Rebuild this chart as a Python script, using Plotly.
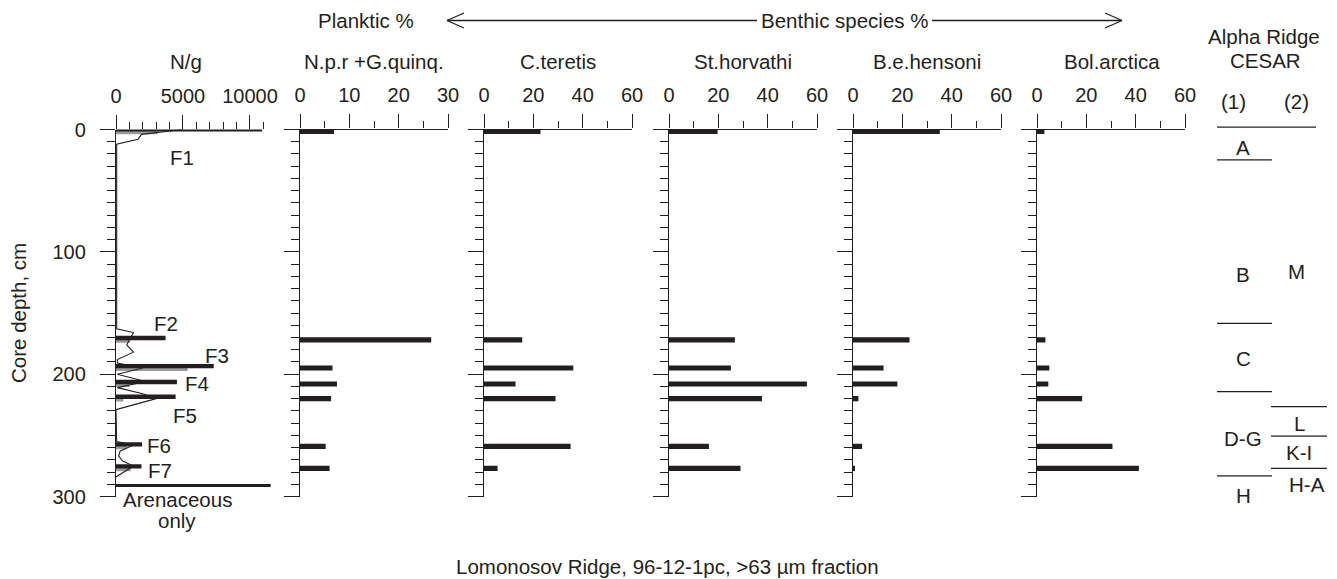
import plotly.graph_objects as go

W, H = 1337, 579
INK = "#231f20"
GREY = "#9a9a9a"
FONT = "Liberation Sans, Arial, sans-serif"
FS = 20
FSA = 20.5

# ---------------- data ----------------
depths = [1.5, 172, 195, 208, 220, 259, 277]           # core depth, cm
ng_black = [10900, 3700, 7300, 4550, 4450, 1950, 1900]
ng_grey = [3100, 1050, 5350, 1000, 550, 800, 1100]
aren_depth = [291]
aren_value = [11550]
ng_line_depth = [0, 4, 8, 12, 163, 166, 171, 176, 182, 188, 191, 195, 200, 206, 211,
                 216, 220, 229, 255, 258, 263, 267, 271, 275, 284]
ng_line_value = [5000, 1900, 1650, 50, 50, 1300, 1050, 800, 1300, 100, 100, 2000, 100,
                 2200, 100, 2000, 3000, 0, 50, 1300, 300, 200, 500, 1300, 0]
npr = [6.9, 26.6, 6.6, 7.5, 6.3, 5.2, 6.0]
cteretis = [22.9, 15.5, 36.2, 12.8, 29.0, 35.1, 5.5]
sthorvathi = [19.7, 26.7, 25.1, 55.9, 37.7, 16.2, 29.0]
behensoni = [35.2, 22.9, 12.4, 18.0, 2.2, 3.7, 0.7]
bolarctica = [3.0, 3.4, 5.0, 4.6, 18.3, 30.6, 41.3]

panel_titles = ["N/g", "N.p.r +G.quinq.", "C.teretis", "St.horvathi", "B.e.hensoni", "Bol.arctica"]
fauna_labels = ["F1", "F2", "F3", "F4", "F5", "F6", "F7"]
fauna_x = [4925, 3730, 7515, 6020, 5150, 3210, 3280]
fauna_depth = [22.5, 158.4, 185, 208, 233.4, 258.7, 279]

# Alpha Ridge CESAR zonation (depth equivalents)
col1_bounds = [24.9, 158.4, 214.3, 283.2]
col2_bounds = [226.6, 250.6, 277.0]
top_bound = [-2.0]
col1_labels = ["A", "B", "C", "D-G", "H"]
col1_label_depth = [15.1, 118.9, 186.8, 252.2, 298.8]
col2_labels = ["M", "L", "K-I", "H-A"]
col2_label_depth = [115.7, 240.0, 263.7, 290.6]
col2_label_x = [1296, 1299, 1299, 1307]


def px(x):
    return x / W


def py(y):
    return 1 - y / H


Y_TOP, Y_BOT = 129.5, 496.5
ydom = [py(Y_BOT), py(Y_TOP)]
PXCM = (Y_BOT - Y_TOP) / 300.0

panels = [
    # (left px, right px, range max, dtick, minor dtick, title centre)
    (116, 271.4, 11600, 5000, 1000, 186),
    (300, 448, 30, 10, 5, 374),
    (484, 632, 60, 20, 10, 558),
    (669, 817, 60, 20, 10, 743),
    (853, 1001, 60, 20, 10, 927),
    (1037, 1185, 60, 20, 10, 1112),
]
series = [None, npr, cteretis, sthorvathi, behensoni, bolarctica]

fig = go.Figure()

# N/g panel
fig.add_trace(go.Scatter(x=ng_line_value, y=ng_line_depth, mode="lines",
                         line=dict(color=INK, width=1.1), xaxis="x", yaxis="y",
                         showlegend=False, hoverinfo="skip"))
fig.add_trace(go.Bar(x=ng_grey, y=depths, orientation="h", width=2.8, offset=-0.4,
                     marker=dict(color=GREY, line=dict(width=0)), xaxis="x", yaxis="y",
                     showlegend=False))
fig.add_trace(go.Bar(x=ng_black, y=depths, orientation="h", width=3.6, offset=-3.4,
                     marker=dict(color=INK, line=dict(width=0)), xaxis="x", yaxis="y",
                     showlegend=False))
fig.add_trace(go.Bar(x=aren_value, y=aren_depth, orientation="h", width=2.4,
                     marker=dict(color=INK, line=dict(width=0)), xaxis="x", yaxis="y",
                     showlegend=False))

for i in range(2, 7):
    fig.add_trace(go.Bar(x=series[i - 1], y=depths, orientation="h", width=4.2,
                         marker=dict(color=INK, line=dict(width=0)),
                         xaxis=f"x{i}", yaxis=f"y{i}", showlegend=False))

layout = dict(
    template="none",
    width=W, height=H, margin=dict(l=0, r=0, t=0, b=0, pad=0, autoexpand=False),
    paper_bgcolor="white", plot_bgcolor="rgba(0,0,0,0)",
    barmode="overlay", showlegend=False,
    font=dict(family=FONT, size=FS, color=INK),
)

for i, (l, r, rmax, dt, mdt, tc) in enumerate(panels, start=1):
    sfx = "" if i == 1 else str(i)
    layout[f"xaxis{sfx}"] = dict(
        domain=[px(l), px(r)], range=[0, rmax], side="top", anchor=f"y{sfx}",
        automargin=False,
        showgrid=False, zeroline=False, showline=(i != 1), linecolor=INK, linewidth=1.3,
        ticks="outside", ticklen=14, tickwidth=1.3, tickcolor=INK,
        tickmode="linear", tick0=0, dtick=dt, tickformat="d", ticklabelstandoff=4,
        minor=dict(tickmode="linear", dtick=mdt, tick0=0, ticks="outside", ticklen=7,
                   tickwidth=1.3, tickcolor=INK, showgrid=False),
        tickfont=dict(family=FONT, size=FS, color=INK), fixedrange=True,
    )
    layout[f"yaxis{sfx}"] = dict(
        domain=ydom, range=[300, 0], anchor=f"x{sfx}", automargin=False,
        showgrid=False, zeroline=False,
        showline=True, linecolor=INK, linewidth=1.3, ticks="outside", ticklen=15,
        tickwidth=1.3, tickcolor=INK, tickmode="linear", tick0=0, dtick=100,
        ticklabelstandoff=10,
        minor=dict(tickmode="linear", dtick=10, tick0=0, ticks="outside", ticklen=8,
                   tickwidth=1.3, tickcolor=INK, showgrid=False),
        showticklabels=(i == 1), tickfont=dict(family=FONT, size=FS, color=INK),
        fixedrange=True,
    )

# Alpha Ridge schematic column: same depth scale as panels
a_top, a_bot = 110.0, 505.0
layout["xaxis7"] = dict(domain=[px(1200), px(1337)], range=[1200, 1337], visible=False,
                        anchor="y7", fixedrange=True, automargin=False)
layout["yaxis7"] = dict(domain=[py(a_bot), py(a_top)],
                        range=[(a_bot - Y_TOP) / PXCM, (a_top - Y_TOP) / PXCM],
                        visible=False, anchor="x7", fixedrange=True, automargin=False)

fig.update_layout(**layout)

# zone boundary lines
for d in top_bound:
    fig.add_trace(go.Scatter(x=[1217, 1316], y=[d, d], mode="lines",
                             line=dict(color=INK, width=1.3), xaxis="x7", yaxis="y7",
                             showlegend=False, hoverinfo="skip"))
for d in col1_bounds:
    fig.add_trace(go.Scatter(x=[1217, 1272], y=[d, d], mode="lines",
                             line=dict(color=INK, width=1.3), xaxis="x7", yaxis="y7",
                             showlegend=False, hoverinfo="skip"))
for d in col2_bounds:
    fig.add_trace(go.Scatter(x=[1271, 1327], y=[d, d], mode="lines",
                             line=dict(color=INK, width=1.3), xaxis="x7", yaxis="y7",
                             showlegend=False, hoverinfo="skip"))

ann = []


def txt(x, y, s, xanchor="center", yanchor="middle", angle=0, size=FSA):
    ann.append(dict(x=px(x), y=py(y), xref="paper", yref="paper", text=s, showarrow=False,
                    xanchor=xanchor, yanchor=yanchor, textangle=angle,
                    font=dict(family=FONT, size=size, color=INK)))


for i, (l, r, rmax, dt, mdt, tc) in enumerate(panels):
    txt(tc, 62, panel_titles[i])

for lab, xv, dv in zip(fauna_labels, fauna_x, fauna_depth):
    ann.append(dict(x=xv, y=dv, xref="x", yref="y", text=lab, showarrow=False,
                    font=dict(family=FONT, size=FSA, color=INK)))

for lab, dv in zip(col1_labels, col1_label_depth):
    ann.append(dict(x=1243, y=dv, xref="x7", yref="y7", text=lab, showarrow=False,
                    font=dict(family=FONT, size=FSA, color=INK)))
for lab, xv, dv in zip(col2_labels, col2_label_x, col2_label_depth):
    ann.append(dict(x=xv, y=dv, xref="x7", yref="y7", text=lab, showarrow=False,
                    font=dict(family=FONT, size=FSA, color=INK)))

txt(366, 20, "Planktic %")
txt(845, 20, "Benthic species %")
txt(1264, 37, "Alpha Ridge")
txt(1265, 60, "CESAR")
txt(1233, 101, "(1)")
txt(1296, 101, "(2)")
txt(177, 499, "Arenaceous")
txt(177, 520, "only")
txt(18, 313, "Core depth, cm", angle=-90)
txt(667, 566, "Lomonosov Ridge, 96-12-1pc, >63 µm fraction")

fig.update_layout(annotations=ann)

# header arrow
shapes = []


def seg(x0, y0, x1, y1):
    shapes.append(dict(type="line", xref="paper", yref="paper", x0=px(x0), y0=py(y0),
                       x1=px(x1), y1=py(y1), line=dict(color=INK, width=1.3)))


seg(447, 20.5, 757, 20.5)
seg(932, 20.5, 1122, 20.5)
seg(447, 20.5, 464, 13)
seg(447, 20.5, 464, 28)
seg(1122, 20.5, 1105, 13)
seg(1122, 20.5, 1105, 28)
fig.update_layout(shapes=shapes)

fig.write_html("out.html")
